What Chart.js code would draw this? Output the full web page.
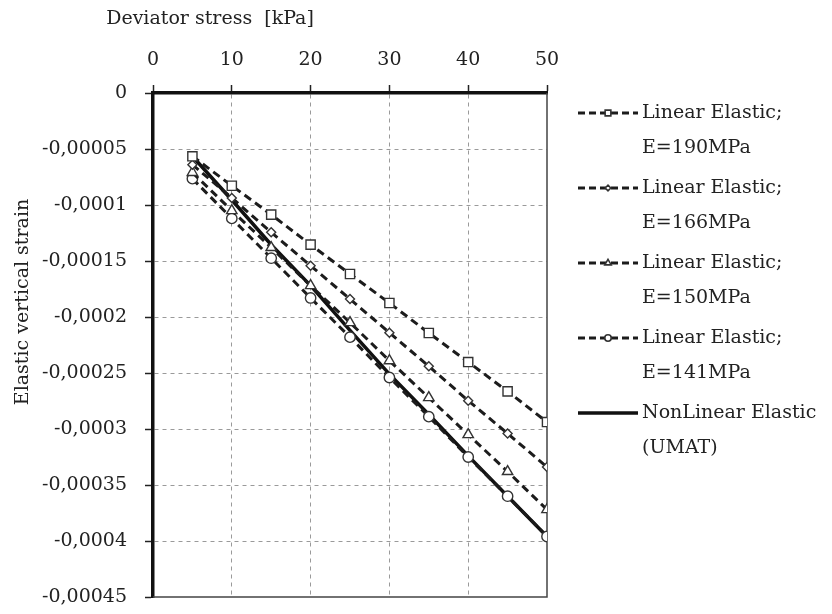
<!DOCTYPE html>
<html>
<head>
<meta charset="utf-8">
<script src="https://cdn.jsdelivr.net/npm/chart.js@4/dist/chart.umd.min.js"></script>
<style>
  body { margin: 0; background: #fff; }
  #wrap { width: 832px; height: 614px; }
</style>
</head>
<body>
<div id="wrap"><canvas id="strainChart"></canvas></div>
<script>
// deviator stress [kPa]
const stress = [5, 10, 15, 20, 25, 30, 35, 40, 45, 50];

// elastic vertical strain
const strainE190 = [-0.0000565, -0.0000828, -0.0001086, -0.0001354, -0.0001616, -0.0001875, -0.0002143, -0.0002402, -0.0002664, -0.0002938];
const strainE166 = [-0.0000640, -0.0000937, -0.0001244, -0.0001542, -0.0001840, -0.0002140, -0.0002440, -0.0002747, -0.0003040, -0.0003340];
const strainE150 = [-0.0000710, -0.0001050, -0.0001380, -0.0001720, -0.0002050, -0.0002390, -0.0002720, -0.0003050, -0.0003380, -0.0003720];
const strainE141 = [-0.0000765, -0.0001120, -0.0001475, -0.0001830, -0.0002180, -0.0002540, -0.0002890, -0.0003250, -0.0003600, -0.0003960];
const strainUmat = [-0.0000565, -0.0000955, -0.0001355, -0.0001720, -0.0002120, -0.0002510, -0.0002870, -0.0003240, -0.0003600, -0.0003960];

const seriesLabels = [
  ['Linear Elastic;', 'E=190MPa'],
  ['Linear Elastic;', 'E=166MPa'],
  ['Linear Elastic;', 'E=150MPa'],
  ['Linear Elastic;', 'E=141MPa'],
  ['NonLinear Elastic', '(UMAT)']
];

const xTicks = [0, 10, 20, 30, 40, 50];
const yTicks = [0, -0.00005, -0.0001, -0.00015, -0.0002, -0.00025, -0.0003, -0.00035, -0.0004, -0.00045];

const xTitle = 'Deviator stress  [kPa]';
const yTitle = 'Elastic vertical strain';

const FONT = 'DejaVu Serif';
const INK = '#1c1c1c';

function toPoints(values) {
  return stress.map((s, i) => ({ x: s, y: values[i] }));
}

function dashedSeries(idx, values, style, radius) {
  return {
    label: seriesLabels[idx].join(' '),
    data: toPoints(values),
    borderColor: INK,
    borderWidth: 3,
    borderDash: [8, 5],
    pointStyle: style,
    pointRadius: radius,
    pointBorderColor: '#333',
    pointBorderWidth: 1.4,
    pointBackgroundColor: '#fff',
    fill: false,
    tension: 0
  };
}

const datasets = [
  dashedSeries(0, strainE190, 'rect', 6.5),
  dashedSeries(1, strainE166, 'rectRot', 4.5),
  dashedSeries(2, strainE150, 'triangle', 6),
  dashedSeries(3, strainE141, 'circle', 5.2),
  {
    label: seriesLabels[4].join(' '),
    data: toPoints(strainUmat),
    borderColor: '#111',
    borderWidth: 3.5,
    pointRadius: 0,
    fill: false,
    tension: 0
  }
];

// legend, axis titles and plot frame drawn by hand
const extrasPlugin = {
  id: 'extras',
  beforeDatasetsDraw(chart) {
    const { ctx, chartArea } = chart;
    ctx.save();
    ctx.strokeStyle = '#444';
    ctx.lineWidth = 1.5;
    ctx.beginPath();
    ctx.moveTo(chartArea.right, chartArea.top);
    ctx.lineTo(chartArea.right, chartArea.bottom);
    ctx.lineTo(chartArea.left, chartArea.bottom);
    ctx.stroke();
    ctx.restore();
  },
  afterDraw(chart) {
    const { ctx } = chart;
    ctx.save();
    ctx.fillStyle = '#222';
    ctx.font = '19px "' + FONT + '"';
    ctx.textBaseline = 'middle';

    ctx.textAlign = 'center';
    ctx.fillText(xTitle, 210, 19);

    ctx.save();
    ctx.translate(23, 302);
    ctx.rotate(-Math.PI / 2);
    ctx.fillText(yTitle, 0, 0);
    ctx.restore();

    // legend
    ctx.textAlign = 'left';
    chart.data.datasets.forEach((ds, i) => {
      const y = 113 + i * 75;
      ctx.save();
      ctx.strokeStyle = ds.borderColor;
      ctx.lineWidth = ds.borderWidth;
      ctx.setLineDash(ds.borderDash ? [7, 4] : []);
      ctx.beginPath();
      ctx.moveTo(578, y);
      ctx.lineTo(638, y);
      ctx.stroke();
      ctx.restore();
      if (ds.pointRadius > 0) {
        ctx.save();
        ctx.strokeStyle = ds.pointBorderColor;
        ctx.fillStyle = ds.pointBackgroundColor;
        ctx.lineWidth = 1.6;
        Chart.helpers.drawPoint(ctx, {
          pointStyle: ds.pointStyle,
          radius: ds.pointRadius * 0.62,
          rotation: 0,
          borderWidth: 1.6
        }, 608, y);
        ctx.restore();
      }
      seriesLabels[i].forEach((line, k) => {
        ctx.fillText(line, 642, y + k * 35);
      });
    });
    ctx.restore();
  }
};

const gridColor = (ends) => (c) => (ends.includes(c.tick.value) ? 'rgba(0,0,0,0)' : '#9a9a9a');

const config = {
  type: 'line',
  data: { datasets },
  options: {
    responsive: true,
    maintainAspectRatio: false,
    animation: false,
    layout: { padding: { top: 0, right: 285, bottom: 17, left: 0 } },
    plugins: {
      legend: { display: false },
      tooltip: { enabled: false }
    },
    scales: {
      x: {
        type: 'linear',
        position: 'top',
        min: 0,
        max: 50,
        afterBuildTicks: (scale) => { scale.ticks = xTicks.map(v => ({ value: v })); },
        afterFit: (scale) => { scale.height = 93; },
        ticks: {
          color: '#222',
          font: { family: FONT, size: 19 },
          padding: 14,
          maxRotation: 0
        },
        grid: {
          color: gridColor([0, 50]),
          lineWidth: 1,
          tickColor: '#222',
          tickLength: 8,
          tickWidth: 1.5
        },
        border: { display: true, color: '#111', width: 3.5, dash: [4, 4] }
      },
      y: {
        type: 'linear',
        min: -0.00045,
        max: 0,
        afterBuildTicks: (scale) => { scale.ticks = yTicks.map(v => ({ value: v })); },
        afterFit: (scale) => {
          scale.width = 153;
          scale.paddingTop = 0;
          scale.paddingBottom = 0;
        },
        ticks: {
          color: '#222',
          font: { family: FONT, size: 19 },
          padding: 18,
          callback: (v) => String(v).replace('.', ',')
        },
        grid: {
          color: gridColor([0, -0.00045]),
          lineWidth: 1,
          tickColor: '#222',
          tickLength: 8,
          tickWidth: 1.5
        },
        border: { display: true, color: '#111', width: 3.5, dash: [4, 4] }
      }
    }
  },
  plugins: [extrasPlugin]
};

const ctx = document.getElementById('strainChart').getContext('2d');
window.strainChart = new Chart(ctx, config);
</script>
</body>
</html>
